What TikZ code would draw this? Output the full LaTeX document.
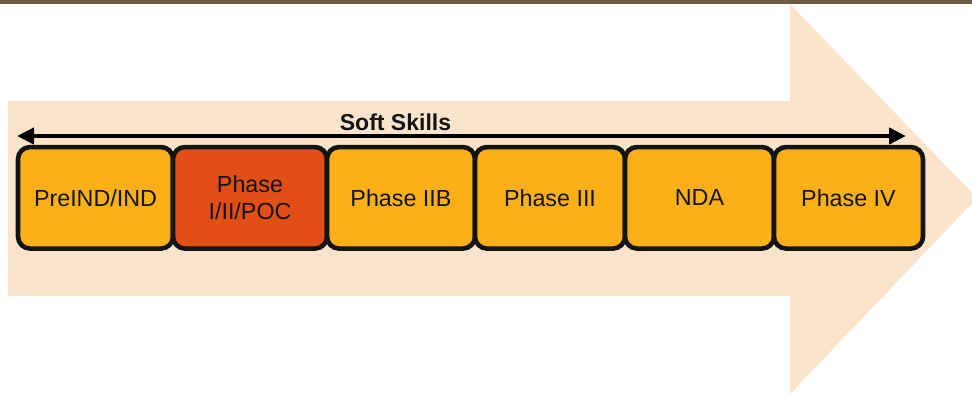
\documentclass[tikz,border=0pt]{standalone}
\usepackage{fontspec}
\setmainfont{Liberation Sans}
\usetikzlibrary{arrows.meta}
\definecolor{topbar}{HTML}{6D5A44}
\definecolor{peach}{HTML}{FCE3CC}
\definecolor{amber}{HTML}{FBB01A}
\definecolor{rust}{HTML}{E14F17}
\definecolor{ink}{HTML}{141414}
\tikzset{
  phasebox/.style={draw=ink, line width=4.6pt, rounded corners=12pt,
    fill=amber, minimum height=101.5pt,
    align=center, font=\fontsize{23.3}{26.7}\selectfont, text=ink, inner sep=0pt},
  hotbox/.style={phasebox, fill=rust},
  spanarrow/.style={draw=black, line width=4.8pt,
    {Triangle[length=17pt,width=16pt]}-{Triangle[length=17pt,width=16pt]}},
}
\begin{document}
\begin{tikzpicture}[x=1pt,y=-1pt]
  \useasboundingbox (0,0) rectangle (972,392);
  % big background arrow
  \begin{scope}
    \clip (0,0) rectangle (972,392);
    \fill[peach] (8,101) -- (790,101) -- (790,4) -- (977,198) -- (790,394)
      -- (790,296) -- (8,296) -- cycle;
  \end{scope}
  % top rule
  \fill[topbar] (0,0) rectangle (972,3.7);
  % phase boxes
  \node[phasebox, minimum width=155pt] (pre)  at (95.5,197.8)  {PreIND/IND};
  \node[hotbox,   minimum width=154pt] (p1)   at (250,197.8)   {Phase\\I/II/POC};
  \node[phasebox, minimum width=148pt] (p2b)  at (401,197.8)   {Phase IIB};
  \node[phasebox, minimum width=150pt] (p3)   at (550,197.8)   {Phase III};
  \node[phasebox, minimum width=149pt] (nda)  at (699.5,197.8) {NDA};
  \node[phasebox, minimum width=149pt] (p4)   at (848.5,197.8) {Phase IV};
  % soft skills span
  \coordinate (sl) at (17,136);
  \coordinate (sr) at (906,136);
  \draw[spanarrow] (sl) -- (sr);
  \node[font=\bfseries\fontsize{23}{26}\selectfont, text=ink] (soft) at (395.5,122) {Soft Skills};
\end{tikzpicture}
\end{document}
